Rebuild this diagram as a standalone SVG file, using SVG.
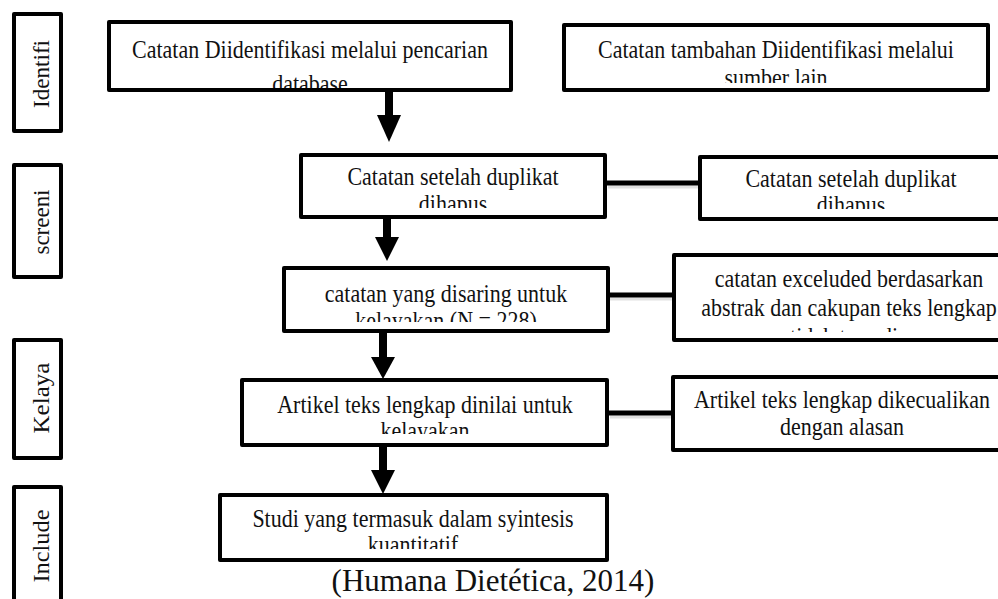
<svg xmlns="http://www.w3.org/2000/svg" width="998" height="599" viewBox="0 0 998 599">
<style>
.box{fill:#fff;stroke:#000;stroke-width:4;stroke-linejoin:round}
.t{font-family:"Liberation Serif","Times New Roman",serif;font-size:22px;fill:#111;text-anchor:middle}
.side{font-family:"Liberation Serif","Times New Roman",serif;font-size:24px;fill:#111;text-anchor:middle}
.conn{stroke:#000;stroke-width:5;fill:none}
.shadow{stroke:#aaa;stroke-width:3;opacity:0.35;fill:none}
.shaft{stroke:#000;stroke-width:8;fill:none}
.head{fill:#000}
.cap{font-family:"Liberation Serif","Times New Roman",serif;font-size:31px;fill:#111;text-anchor:middle}
</style>
<defs>
<clipPath id="c1" clipPathUnits="userSpaceOnUse"><rect x="109" y="22" width="402" height="66"/></clipPath>
<clipPath id="c2" clipPathUnits="userSpaceOnUse"><rect x="564" y="25" width="424" height="58"/></clipPath>
<clipPath id="c3" clipPathUnits="userSpaceOnUse"><rect x="301" y="155" width="303" height="53"/></clipPath>
<clipPath id="c4" clipPathUnits="userSpaceOnUse"><rect x="700" y="157" width="298" height="52"/></clipPath>
<clipPath id="c5" clipPathUnits="userSpaceOnUse"><rect x="284" y="268" width="323" height="54"/></clipPath>
<clipPath id="c6" clipPathUnits="userSpaceOnUse"><rect x="674" y="255" width="324" height="77"/></clipPath>
<clipPath id="c7" clipPathUnits="userSpaceOnUse"><rect x="242" y="380" width="364" height="54"/></clipPath>
<clipPath id="c8" clipPathUnits="userSpaceOnUse"><rect x="673" y="377" width="325" height="73"/></clipPath>
<clipPath id="c9" clipPathUnits="userSpaceOnUse"><rect x="220" y="495" width="386" height="54"/></clipPath>
</defs>

<g id="side-identifi">
<rect class="box" x="14" y="14" width="47" height="117"/>
<text class="side" transform="translate(49 74) rotate(-90)" textLength="68" lengthAdjust="spacingAndGlyphs">Identifi</text>
</g>
<g id="side-screeni">
<rect class="box" x="14" y="165" width="47" height="112"/>
<text class="side" transform="translate(49 222) rotate(-90)" textLength="65" lengthAdjust="spacingAndGlyphs">screeni</text>
</g>
<g id="side-kelaya">
<rect class="box" x="14" y="340" width="47" height="118"/>
<text class="side" transform="translate(49 398) rotate(-90)" textLength="71" lengthAdjust="spacingAndGlyphs">Kelaya</text>
</g>
<g id="side-include">
<rect class="box" x="14" y="487" width="47" height="130"/>
<text class="side" transform="translate(49 546) rotate(-90)" textLength="73" lengthAdjust="spacingAndGlyphs">Include</text>
</g>

<g id="connectors">
<line class="shadow" x1="608" y1="187" x2="698" y2="187"/>
<line class="conn" x1="606" y1="183" x2="700" y2="183"/>
<line class="shadow" x1="610" y1="299" x2="672" y2="299"/>
<line class="conn" x1="608" y1="295" x2="674" y2="295"/>
<line class="shadow" x1="610" y1="417" x2="672" y2="417"/>
<line class="conn" x1="606" y1="413" x2="673" y2="413"/>
<line class="shaft" x1="389" y1="90" x2="389" y2="116"/>
<polygon class="head" points="377,115 401,115 389,142"/>
<line class="shaft" x1="387" y1="217" x2="387" y2="238"/>
<polygon class="head" points="375,237 399,237 387,261"/>
<line class="shaft" x1="383" y1="331" x2="383" y2="358"/>
<polygon class="head" points="371,357 395,357 383,379"/>
<line class="shaft" x1="383" y1="445" x2="383" y2="471"/>
<polygon class="head" points="371,470 395,470 383,494"/>
</g>

<g id="n1">
<rect class="box" x="109" y="22" width="402" height="68"/>
<g clip-path="url(#c1)"><text class="t" transform="translate(310 58) scale(1 1.12)"><tspan x="0" y="0">Catatan Diidentifikasi melalui pencarian</tspan><tspan x="0" y="30">database</tspan></text></g>
</g>
<g id="n2">
<rect class="box" x="564" y="25" width="424" height="65"/>
<g clip-path="url(#c2)"><text class="t" transform="translate(776 58) scale(1 1.12)"><tspan x="0" y="0">Catatan tambahan Diidentifikasi melalui</tspan><tspan x="0" y="25">sumber lain</tspan></text></g>
</g>
<g id="n3">
<rect class="box" x="301" y="155" width="304" height="62"/>
<g clip-path="url(#c3)"><text class="t" transform="translate(453 185) scale(1 1.12)"><tspan x="0" y="0">Catatan setelah duplikat</tspan><tspan x="0" y="24">dihapus</tspan></text></g>
</g>
<g id="n4">
<rect class="box" x="700" y="157" width="305" height="62"/>
<g clip-path="url(#c4)"><text class="t" transform="translate(851 187) scale(1 1.12)"><tspan x="0" y="0">Catatan setelah duplikat</tspan><tspan x="0" y="23">dihapus</tspan></text></g>
</g>
<g id="n5">
<rect class="box" x="284" y="268" width="324" height="63"/>
<g clip-path="url(#c5)"><text class="t" transform="translate(446 302) scale(1 1.12)"><tspan x="0" y="0">catatan yang disaring untuk</tspan><tspan x="0" y="24">kelayakan (N =  228)</tspan></text></g>
</g>
<g id="n6">
<rect class="box" x="674" y="255" width="350" height="85"/>
<g clip-path="url(#c6)"><text class="t" transform="translate(849 287) scale(1 1.12)"><tspan x="0" y="0">catatan exceluded berdasarkan</tspan><tspan x="0" y="26">abstrak dan cakupan teks lengkap</tspan><tspan x="0" y="52">tidak tersedia</tspan></text></g>
</g>
<g id="n7">
<rect class="box" x="242" y="380" width="365" height="65"/>
<g clip-path="url(#c7)"><text class="t" transform="translate(425 413) scale(1 1.12)"><tspan x="0" y="0">Artikel teks lengkap dinilai untuk</tspan><tspan x="0" y="23">kelayakan</tspan></text></g>
</g>
<g id="n8">
<rect class="box" x="673" y="377" width="340" height="73"/>
<g clip-path="url(#c8)"><text class="t" transform="translate(842 408) scale(1 1.12)"><tspan x="0" y="0">Artikel teks lengkap dikecualikan</tspan><tspan x="0" y="24">dengan alasan</tspan></text></g>
</g>
<g id="n9">
<rect class="box" x="220" y="495" width="387" height="65"/>
<g clip-path="url(#c9)"><text class="t" transform="translate(413 527) scale(1 1.12)"><tspan x="0" y="0">Studi yang termasuk dalam syintesis</tspan><tspan x="0" y="23">kuantitatif</tspan></text></g>
</g>

<text class="cap" x="493" y="591">(Humana Dietética, 2014)</text>
</svg>
